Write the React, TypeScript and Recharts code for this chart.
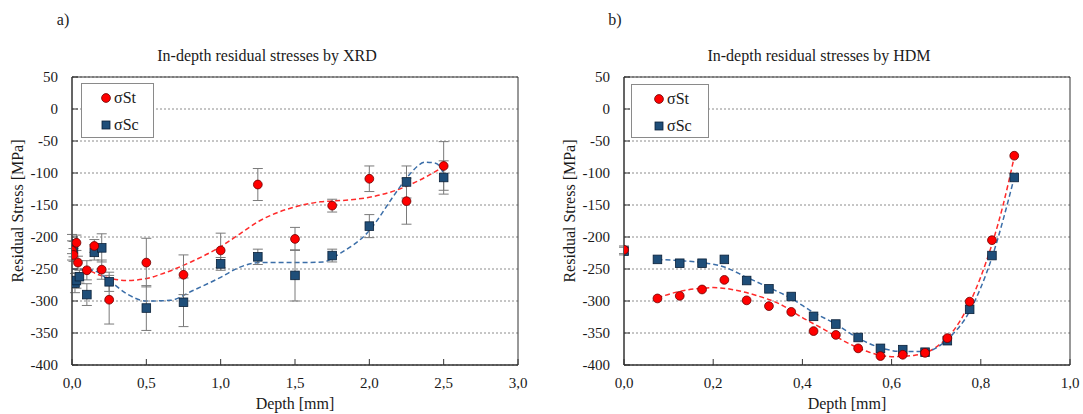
import React from 'react'
import {
  ComposedChart,
  Scatter,
  Line,
  XAxis,
  YAxis,
  CartesianGrid,
  ErrorBar,
  ReferenceArea,
  Legend,
} from 'recharts'

// stress axis shared by both panels
const stressTicks = [-400, -350, -300, -250, -200, -150, -100, -50, 0, 50]
const xrdDepthTicks = [0, 0.5, 1, 1.5, 2, 2.5, 3]
const hdmDepthTicks = [0, 0.2, 0.4, 0.6, 0.8, 1]

// a) XRD measurements
const xrdStDepth = [0, 0.01, 0.03, 0.04, 0.1, 0.15, 0.2, 0.25, 0.5, 0.75, 1.0, 1.25, 1.5, 1.75, 2.0, 2.25, 2.5]
const xrdStStress = [-221, -228, -209, -240, -252, -214, -251, -298, -240, -259, -221, -118, -203, -151, -109, -144, -89]
const xrdStError = [15, 10, 12, 10, 15, 10, 15, 38, 38, 31, 27, 25, 18, 10, 20, 36, 38]

const xrdScDepth = [0, 0.01, 0.02, 0.03, 0.05, 0.1, 0.15, 0.2, 0.25, 0.5, 0.75, 1.0, 1.25, 1.5, 1.75, 2.0, 2.25, 2.5]
const xrdScStress = [-211, -219, -272, -268, -262, -290, -224, -217, -270, -311, -302, -242, -231, -260, -229, -183, -114, -107]
const xrdScError = [15, 12, 15, 12, 10, 17, 12, 22, 15, 35, 38, 10, 12, 40, 10, 18, 25, 26]

// a) fitted trend lines
const xrdStFitDepth = [0, 0.05, 0.14, 0.25, 0.37, 0.5, 0.6, 0.8, 1.0, 1.13, 1.26, 1.38, 1.5, 1.67, 1.87, 2.02, 2.18, 2.34, 2.5]
const xrdStFitStress = [-230, -242, -255, -264, -268, -265, -258, -239, -215, -195, -175, -162, -153, -145, -142, -137, -127, -111, -90]
const xrdScFitDepth = [0, 0.14, 0.25, 0.37, 0.5, 0.66, 0.81, 1.0, 1.13, 1.26, 1.5, 1.69, 1.8, 2.0, 2.16, 2.25, 2.38, 2.45, 2.5]
const xrdScFitStress = [-250, -252, -268, -289, -300, -299, -284, -263, -247, -240, -240, -239, -226, -190, -137, -108, -83, -85, -101]

// b) HDM measurements
const hdmDepth = [0, 0.075, 0.125, 0.175, 0.225, 0.275, 0.325, 0.375, 0.425, 0.475, 0.525, 0.575, 0.625, 0.675, 0.725, 0.775, 0.825, 0.875]
const hdmStStress = [-220, -296, -292, -282, -267, -299, -308, -317, -347, -353, -374, -386, -384, -381, -358, -301, -205, -73]
const hdmScStress = [-222, -235, -241, -241, -235, -268, -281, -293, -324, -336, -357, -374, -376, -380, -362, -313, -229, -107]
const hdmError = [6, 0, 0, 0, 0, 0, 0, 0, 0, 0, 0, 0, 0, 0, 0, 0, 0, 0]

// b) fitted trend lines
const hdmStFitDepth = [0.075, 0.125, 0.175, 0.2, 0.25, 0.3, 0.35, 0.4, 0.45, 0.5, 0.55, 0.6, 0.65, 0.7, 0.75, 0.8, 0.85, 0.875]
const hdmStFitStress = [-295, -285, -280, -279, -283, -292, -305, -326, -345, -365, -380, -387, -385, -372, -335, -262, -150, -75]
const hdmScFitDepth = [0.075, 0.125, 0.175, 0.225, 0.275, 0.325, 0.375, 0.425, 0.475, 0.525, 0.575, 0.625, 0.675, 0.725, 0.775, 0.825, 0.875]
const hdmScFitStress = [-235, -237, -240, -247, -263, -279, -296, -318, -336, -358, -373, -379, -379, -360, -316, -232, -107]

const RED = '#ff0000'
const BLUE = '#1f4e79'
const FONT = 'Liberation Serif, Times New Roman, serif'

const rows = (xs: number[], ys: number[], errs?: number[]) =>
  xs.map((x, i) => ({ x, y: ys[i], err: errs ? errs[i] : 0 }))

// eslint-disable-next-line @typescript-eslint/no-explicit-any
const RedDot = (p: any) => (
  <circle cx={p.cx} cy={p.cy} r={4.4} fill={RED} stroke='#6b0000' strokeWidth={0.8} />
)
// eslint-disable-next-line @typescript-eslint/no-explicit-any
const BlueSquare = (p: any) => (
  <rect x={p.cx - 4.3} y={p.cy - 4.3} width={8.6} height={8.6} fill={BLUE} stroke='#0a2038' strokeWidth={0.8} />
)

const comma = (v: number) => v.toFixed(1).replace('.', ',')

type Row = { x: number; y: number; err: number }

type PanelProps = {
  left: number
  width: number
  rightMargin: number
  xMax: number
  xTicks: number[]
  st: Row[]
  sc: Row[]
  stFit: Row[]
  scFit: Row[]
  legendBox: { left: number; top: number; width: number; height: number; markX: number }
}

function Panel(props: PanelProps) {
  const { left, width, rightMargin, xMax, xTicks, st, sc, stFit, scFit, legendBox } = props
  const tickStyle = { fill: '#1a1a1a', fontSize: 15, fontFamily: FONT }

  const legendContent = () => (
    <div
      style={{
        width: legendBox.width,
        height: legendBox.height,
        boxSizing: 'border-box',
        border: '1px solid #8a8a8a',
        background: '#fff',
        fontFamily: FONT,
        fontSize: 16,
        color: '#1a1a1a',
        position: 'relative',
      }}
    >
      {[
        { name: 'σSt', top: 5, mark: <circle cx={5} cy={5} r={4.4} fill={RED} stroke='#6b0000' strokeWidth={0.8} /> },
        { name: 'σSc', top: 32, mark: <rect x={1} y={1} width={8} height={8} fill={BLUE} stroke='#0a2038' strokeWidth={0.8} /> },
      ].map((r) => (
        <div key={r.name} style={{ position: 'absolute', left: legendBox.markX, top: r.top, display: 'flex', alignItems: 'center', lineHeight: '18px' }}>
          <svg width={10} height={10} style={{ marginRight: 3 }}>
            {r.mark}
          </svg>
          <span>{r.name}</span>
        </div>
      ))}
    </div>
  )

  return (
    <div style={{ position: 'absolute', left, top: 0 }}>
      <ComposedChart width={width} height={414} margin={{ top: 77, right: rightMargin, bottom: 19, left: 0 }}>
        <CartesianGrid vertical={false} stroke='#8c8c8c' strokeDasharray='2 2' />
        <ReferenceArea x1={0} x2={xMax} y1={-400} y2={50} fill='none' stroke='#333' strokeWidth={1} ifOverflow='visible' />
        <XAxis
          type='number'
          dataKey='x'
          domain={[0, xMax]}
          ticks={xTicks}
          tickFormatter={comma}
          height={30}
          stroke='#333'
          tickSize={-6}
          tickMargin={18}
          tick={tickStyle}
          allowDataOverflow
        />
        <YAxis
          type='number'
          dataKey='y'
          domain={[-400, 50]}
          ticks={stressTicks}
          width={72}
          stroke='#333'
          tickSize={-6}
          tickMargin={20}
          tick={tickStyle}
          allowDataOverflow
        />
        <Legend
          layout='horizontal'
          verticalAlign='middle'
          align='center'
          content={legendContent}
          wrapperStyle={{ left: legendBox.left, top: legendBox.top, width: legendBox.width, height: legendBox.height }}
        />
        <Line data={stFit} dataKey='y' type='monotone' dot={false} activeDot={false} stroke='#ff2a2a' strokeWidth={1.5} strokeDasharray='5 3' isAnimationActive={false} legendType='none' />
        <Line data={scFit} dataKey='y' type='monotone' dot={false} activeDot={false} stroke='#3b6ea8' strokeWidth={1.5} strokeDasharray='5 3' isAnimationActive={false} legendType='none' />
        <Scatter data={sc} dataKey='y' name='σSc' shape={BlueSquare} isAnimationActive={false}>
          <ErrorBar dataKey='err' direction='y' width={5} stroke='#7a7a7a' strokeWidth={1} />
        </Scatter>
        <Scatter data={st} dataKey='y' name='σSt' shape={RedDot} isAnimationActive={false}>
          <ErrorBar dataKey='err' direction='y' width={5} stroke='#7a7a7a' strokeWidth={1} />
        </Scatter>
      </ComposedChart>
    </div>
  )
}

const textBase: React.CSSProperties = {
  position: 'absolute',
  fontFamily: FONT,
  fontSize: 16,
  color: '#1a1a1a',
  whiteSpace: 'nowrap',
  lineHeight: '16px',
}

function Caption({ x, y, text, rotate }: { x: number; y: number; text: string; rotate?: boolean }) {
  return (
    <div style={{ ...textBase, left: x, top: y, transform: `translate(-50%, -50%)${rotate ? ' rotate(-90deg)' : ''}` }}>
      {text}
    </div>
  )
}

export default function App() {
  return (
    <div style={{ position: 'absolute', left: 0, top: 0, width: 1083, height: 414, background: '#fff', overflow: 'hidden' }}>
      <Panel
        left={0}
        width={541}
        rightMargin={23}
        xMax={3}
        xTicks={xrdDepthTicks}
        st={rows(xrdStDepth, xrdStStress, xrdStError)}
        sc={rows(xrdScDepth, xrdScStress, xrdScError)}
        stFit={rows(xrdStFitDepth, xrdStFitStress)}
        scFit={rows(xrdScFitDepth, xrdScFitStress)}
        legendBox={{ left: 81, top: 83, width: 73, height: 55, markX: 19 }}
      />
      <Panel
        left={552}
        width={531}
        rightMargin={13}
        xMax={1}
        xTicks={hdmDepthTicks}
        st={rows(hdmDepth, hdmStStress, hdmError)}
        sc={rows(hdmDepth, hdmScStress, hdmError)}
        stFit={rows(hdmStFitDepth, hdmStFitStress)}
        scFit={rows(hdmScFitDepth, hdmScFitStress)}
        legendBox={{ left: 79, top: 84, width: 78, height: 54, markX: 22 }}
      />
      <Caption x={63} y={20} text='a)' />
      <Caption x={615} y={20} text='b)' />
      <Caption x={267} y={56} text='In-depth residual stresses by XRD' />
      <Caption x={819} y={56} text='In-depth residual stresses by HDM' />
      <Caption x={18} y={211} text='Residual Stress [MPa]' rotate />
      <Caption x={570} y={211} text='Residual Stress [MPa]' rotate />
      <Caption x={295} y={404} text='Depth [mm]' />
      <Caption x={847} y={404} text='Depth [mm]' />
    </div>
  )
}
